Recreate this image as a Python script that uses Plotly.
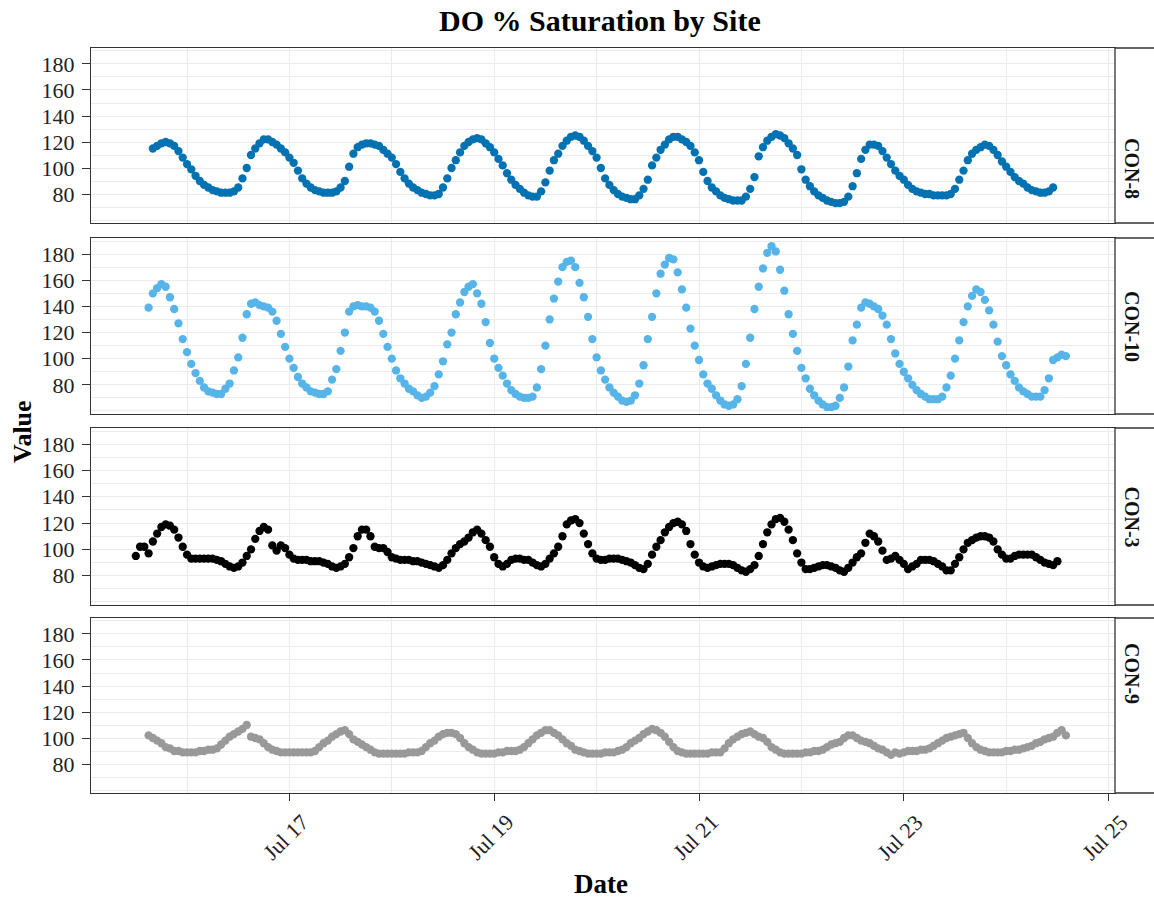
import pandas as pd
import plotly.graph_objects as go
from plotly.subplots import make_subplots

# ---------------- data (hourly readings) ----------------
sites = ["CON-8", "CON-10", "CON-3", "CON-9"]
site_colors = ["#0072B2", "#56B4E9", "#000000", "#999999"]

con8_start = "2023-07-15 16:00"
con8_values = [
    115, 117, 119, 120, 119, 117, 113, 108,
    103, 99, 94, 90, 87, 85, 83, 82, 81, 81, 81, 82, 85, 92, 100, 110, 115, 119, 122, 122, 120, 118, 115, 112,
    108, 104, 98, 92, 88, 85, 83, 82, 81, 81, 81, 82, 85, 90, 101, 111, 116, 118, 119, 119, 118, 117, 114, 111,
    108, 103, 97, 92, 88, 85, 83, 81, 80, 79, 79, 80, 85, 92, 100, 106, 112, 117, 120, 122, 123, 122, 119, 116,
    112, 107, 102, 96, 91, 87, 84, 81, 79, 78, 78, 82, 89, 98, 106, 111, 117, 121, 124, 125, 124, 121, 117, 113,
    108, 100, 92, 87, 83, 80, 78, 77, 76, 76, 79, 84, 91, 102, 108, 114, 118, 122, 124, 124, 122, 120, 117, 112,
    106, 97, 90, 85, 82, 79, 77, 76, 75, 75, 75, 78, 84, 93, 109, 116, 121, 124, 126, 125, 123, 119, 115, 110,
    99, 91, 86, 82, 79, 77, 75, 74, 73, 73, 74, 78, 86, 96, 107, 114, 118, 118, 117, 113, 108, 103, 98, 94,
    91, 87, 84, 82, 81, 80, 80, 79, 79, 79, 79, 80, 84, 91, 98, 106, 111, 114, 116, 118, 117, 114, 110, 105,
    101, 97, 93, 90, 88, 85, 83, 82, 81, 81, 82, 85,
]

con10_start = "2023-07-15 15:00"
con10_values = [
    139, 150, 154, 157, 155, 147, 138, 127, 115,
    105, 96, 89, 83, 78, 75, 74, 73, 73, 77, 81, 91, 101, 116, 134, 142, 143, 141, 140, 139, 136, 129, 119, 109,
    100, 93, 86, 81, 78, 75, 74, 73, 73, 75, 84, 92, 106, 120, 136, 140, 141, 140, 140, 139, 136, 129, 119, 109,
    100, 91, 85, 81, 77, 75, 72, 70, 71, 74, 79, 88, 98, 111, 120, 134, 143, 151, 155, 157, 150, 142, 128, 112,
    100, 93, 87, 81, 76, 73, 71, 70, 70, 71, 78, 92, 110, 130, 146, 159, 170, 174, 175, 170, 158, 147, 132, 115,
    101, 91, 84, 78, 74, 71, 68, 67, 68, 72, 81, 95, 115, 132, 150, 165, 172, 177, 176, 166, 153, 139, 123, 110,
    99, 88, 81, 77, 72, 68, 65, 64, 65, 69, 79, 96, 116, 138, 155, 169, 181, 186, 182, 168, 152, 134, 119, 106,
    93, 85, 77, 72, 68, 65, 63, 63, 64, 70, 78, 94, 114, 126, 139, 143, 142, 140, 138, 133, 126, 115, 104, 96,
    90, 85, 80, 76, 73, 71, 69, 69, 69, 71, 78, 87, 100, 114, 128, 140, 148, 153, 151, 145, 137, 126, 113, 102,
    95, 88, 83, 78, 75, 73, 71, 71, 71, 76, 85, 99, 101, 103, 102,
]

con3_start = "2023-07-15 12:00"
con3_values = [
    95, 102, 102, 97, 106, 112, 117, 119, 118, 115, 109, 102,
    96, 93, 93, 93, 93, 93, 93, 92, 91, 89, 87, 86, 87, 90, 95, 100, 108, 114, 117, 115, 103, 99, 103, 101,
    96, 93, 92, 92, 92, 91, 91, 91, 90, 89, 87, 86, 87, 89, 94, 101, 110, 115, 115, 110, 102, 101, 101, 98,
    94, 93, 92, 92, 92, 91, 91, 90, 89, 88, 87, 86, 88, 92, 97, 101, 104, 106, 109, 113, 115, 112, 107, 102,
    94, 89, 87, 89, 92, 93, 93, 92, 92, 90, 88, 87, 89, 93, 97, 102, 110, 119, 122, 123, 120, 112, 104, 97,
    93, 92, 92, 93, 93, 93, 92, 91, 90, 88, 86, 85, 89, 96, 102, 107, 113, 117, 120, 121, 119, 114, 104, 96,
    90, 87, 86, 87, 88, 89, 89, 89, 88, 86, 84, 83, 85, 88, 95, 104, 113, 119, 123, 124, 121, 115, 107, 97,
    90, 85, 85, 86, 87, 88, 88, 87, 86, 84, 83, 86, 90, 94, 97, 105, 112, 110, 106, 99, 92, 93, 95, 92,
    89, 85, 87, 89, 92, 92, 92, 91, 89, 87, 84, 84, 89, 94, 100, 105, 107, 109, 110, 110, 109, 106, 100, 96,
    93, 93, 95, 96, 96, 96, 96, 94, 92, 90, 89, 88, 91,
]

con9_start = "2023-07-15 15:00"
con9_values = [
    102, 100, 98, 96, 93, 92, 90, 90, 89,
    89, 89, 89, 90, 90, 91, 91, 92, 95, 98, 101, 103, 105, 107, 110, 101, 100, 99, 96, 93, 91, 90, 89, 89,
    89, 89, 89, 89, 89, 89, 90, 93, 96, 98, 101, 103, 105, 106, 103, 99, 97, 95, 93, 91, 89, 88, 88, 88,
    88, 88, 88, 88, 89, 89, 89, 90, 93, 96, 98, 101, 103, 104, 104, 103, 100, 96, 93, 91, 89, 88, 88, 88,
    88, 89, 89, 90, 90, 90, 91, 93, 96, 99, 102, 104, 106, 106, 104, 102, 99, 96, 94, 91, 90, 89, 88, 88,
    88, 88, 89, 89, 89, 90, 91, 93, 96, 98, 100, 103, 105, 107, 106, 104, 101, 97, 93, 90, 89, 88, 88, 88,
    88, 88, 88, 89, 89, 89, 92, 96, 99, 101, 103, 104, 105, 103, 101, 100, 97, 93, 91, 89, 88, 88, 88, 88,
    88, 89, 89, 90, 90, 91, 93, 95, 96, 97, 100, 102, 102, 100, 98, 97, 96, 94, 92, 91, 89, 87, 89, 88,
    89, 90, 90, 90, 91, 91, 92, 94, 96, 98, 100, 101, 102, 103, 104, 100, 96, 93, 91, 90, 89, 89, 89, 89,
    90, 90, 91, 91, 92, 93, 94, 96, 97, 99, 100, 101, 104, 106, 102,
]

site_starts = [con8_start, con10_start, con3_start, con9_start]
site_values = [con8_values, con10_values, con3_values, con9_values]

y_tick_vals = [80, 100, 120, 140, 160, 180]
y_minor_vals = [60, 70, 90, 110, 130, 150, 170, 190]
x_tick_vals = ["2023-07-17", "2023-07-19", "2023-07-21", "2023-07-23", "2023-07-25"]
x_tick_text = ["Jul 17", "Jul 19", "Jul 21", "Jul 23", "Jul 25"]
x_minor_vals = ["2023-07-16", "2023-07-18", "2023-07-20", "2023-07-22", "2023-07-24"]

# ---------------- layout geometry ----------------
W, H = 1154, 899
L, R, T, B = 91, 1115, 48, 793          # plotting area in px
panels_px = [(48, 223), (238, 414), (428, 605), (618, 793)]
PW, PH = R - L, B - T

FONT = "Liberation Serif, Times New Roman, serif"
BORDER = "#333333"
GRID = "#ebebeb"

fig = make_subplots(rows=4, cols=1)

for i, (site, col, start, vals) in enumerate(zip(sites, site_colors, site_starts, site_values)):
    times = pd.date_range(start=start, periods=len(vals), freq="h")
    fig.add_trace(
        go.Scatter(x=times, y=vals, mode="markers",
                   marker=dict(color=col, size=8.3, line=dict(width=0)),
                   name=site, showlegend=False),
        row=i + 1, col=1,
    )

for i in range(4):
    top, bot = panels_px[i]
    dom = [(B - bot) / PH, (B - top) / PH]
    is_bottom = (i == 3)
    xname = "xaxis" if i == 0 else f"xaxis{i+1}"
    yname = "yaxis" if i == 0 else f"yaxis{i+1}"
    fig.layout[xname].update(
        domain=[0, 1],
        type="date",
        range=["2023-07-15 01:30", "2023-07-25 01:30"],
        tickmode="array", tickvals=x_tick_vals, ticktext=x_tick_text,
        showgrid=True, gridcolor=GRID, gridwidth=1.2,
        minor=dict(tickmode="array", tickvals=x_minor_vals, showgrid=True,
                   gridcolor=GRID, gridwidth=1, ticks=""),
        showline=True, linecolor=BORDER, linewidth=1.3, mirror=True,
        ticks="outside" if is_bottom else "", ticklen=7, tickwidth=1.3, tickcolor=BORDER,
        showticklabels=False,
        zeroline=False,
    )
    fig.layout[yname].update(
        domain=dom,
        range=[57.7, 192.3],
        tickmode="array", tickvals=y_tick_vals,
        showgrid=True, gridcolor=GRID, gridwidth=1.2,
        minor=dict(tickmode="array", tickvals=y_minor_vals, showgrid=True,
                   gridcolor=GRID, gridwidth=1, ticks=""),
        showline=True, linecolor=BORDER, linewidth=1.3, mirror=True,
        ticks="outside", ticklen=8, tickwidth=1.3, tickcolor=BORDER,
        ticklabelstandoff=3,
        tickfont=dict(family=FONT, size=22, color="#222222"),
        zeroline=False,
    )
    # facet strip on the right
    fig.add_shape(type="rect", xref="paper", yref="paper",
                  x0=1, x1=1 + 60 / PW, y0=dom[0], y1=dom[1],
                  line=dict(color=BORDER, width=1.3), fillcolor="white", layer="above")
    fig.add_annotation(text=f"<b>{sites[i]}</b>", xref="paper", yref="paper",
                       x=1 + (1145 - R) / PW, y=(dom[0] + dom[1]) / 2,
                       textangle=90, showarrow=False,
                       font=dict(family=FONT, size=20, color="#111111"))

# rotated date labels under the bottom panel (centred under each tick)
for tv, tt in zip(x_tick_vals, x_tick_text):
    fig.add_annotation(text=tt, xref="x4", yref="paper", x=tv, y=-(837 - B) / PH,
                       xanchor="center", yanchor="middle", xshift=-4,
                       textangle=-45, showarrow=False,
                       font=dict(family=FONT, size=22, color="#222222"))

# titles
fig.add_annotation(text="<b>DO % Saturation by Site</b>", xref="paper", yref="paper",
                   x=(600 - L) / PW, y=1 + (T - 21) / PH, showarrow=False,
                   xanchor="center", yanchor="middle",
                   font=dict(family=FONT, size=30, color="#000000"))
fig.add_annotation(text="<b>Date</b>", xref="paper", yref="paper",
                   x=(601 - L) / PW, y=-(884 - B) / PH, showarrow=False,
                   xanchor="center", yanchor="middle",
                   font=dict(family=FONT, size=27, color="#000000"))
fig.add_annotation(text="<b>Value</b>", xref="paper", yref="paper",
                   x=(22 - L) / PW, y=(B - 432) / PH, showarrow=False, textangle=-90,
                   xanchor="center", yanchor="middle",
                   font=dict(family=FONT, size=26, color="#000000"))

fig.update_layout(
    width=W, height=H, autosize=False,
    margin=dict(l=L, r=W - R, t=T, b=H - B, pad=0),
    paper_bgcolor="white", plot_bgcolor="white",
    showlegend=False,
)

fig.write_html("out.html", config={"displayModeBar": False},
               post_script="document.body.style.margin='0';document.body.style.overflow='hidden';")
